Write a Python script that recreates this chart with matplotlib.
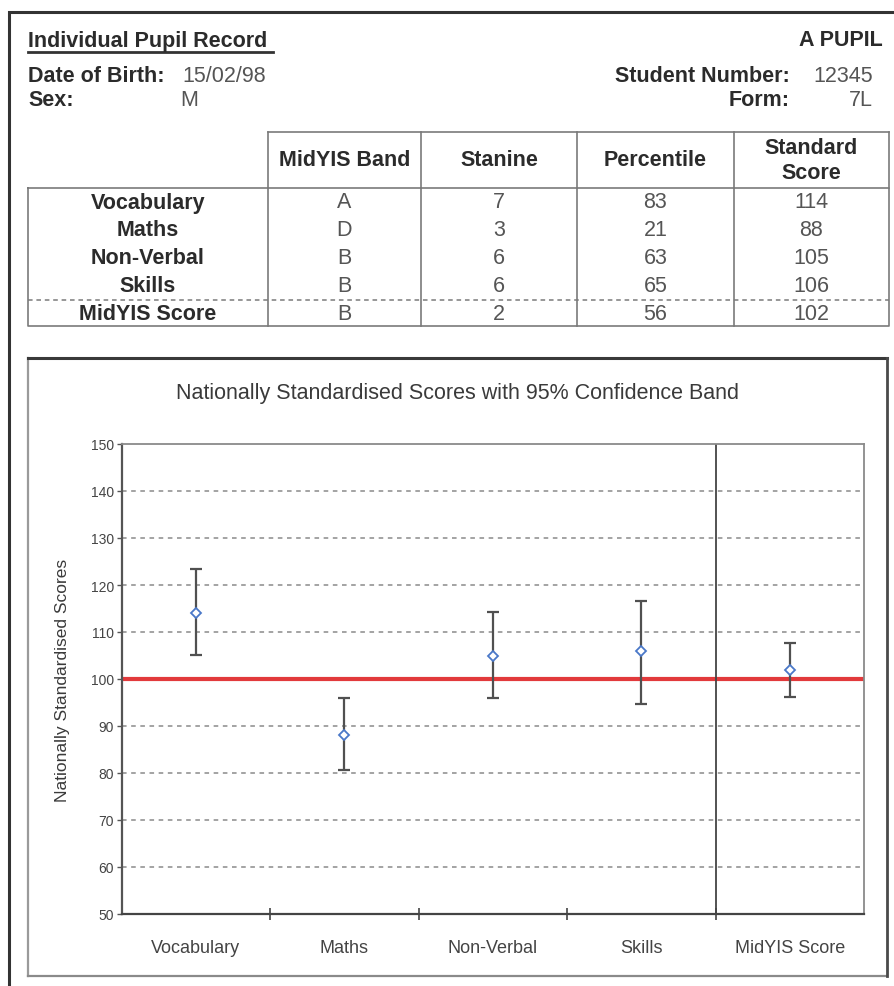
import numpy as np
import matplotlib
matplotlib.use("Agg")
import matplotlib.pyplot as plt

plt.rcParams['font.family'] = ['Liberation Sans', 'DejaVu Sans']

# ---------------- data ----------------
subjects = ["Vocabulary", "Maths", "Non-Verbal", "Skills", "MidYIS Score"]
bands = ["A", "D", "B", "B", "B"]
stanines = [7, 3, 6, 6, 2]
percentiles = [83, 21, 63, 65, 56]
standard_scores = [114, 88, 105, 106, 102]
ci_lower = [105.2, 80.6, 95.9, 94.6, 96.2]
ci_upper = [123.3, 96.0, 114.2, 116.5, 107.6]
table_headers = ["MidYIS Band", "Stanine", "Percentile", "Standard\nScore"]
y_ticks = [50, 60, 70, 80, 90, 100, 110, 120, 130, 140, 150]
reference_score = 100

pupil_name = "A PUPIL"
dob = "15/02/98"
sex = "M"
student_number = "12345"
form = "7L"

W, H = 894, 987
fig = plt.figure(figsize=(W / 100, H / 100), dpi=100)
fig.patch.set_facecolor("white")

bg = fig.add_axes([0, 0, 1, 1])
bg.set_xlim(0, W)
bg.set_ylim(H, 0)
bg.axis("off")

DARK = "#2b2b2b"
VAL = "#555555"
FS = 15.5

# outer frame (left + top)
bg.plot([9, 9, W], [H, 13, 13], color="#333333", lw=2.2, solid_joinstyle="miter")

# header block
bg.text(28, 41, "Individual Pupil Record", fontsize=FS, weight="bold", color=DARK,
        ha="left", va="center")
bg.plot([28, 273], [53, 53], color="#333333", lw=2)
bg.text(883, 41, pupil_name, fontsize=FS, weight="bold", color=DARK, ha="right", va="center")
bg.text(28, 76, "Date of Birth:", fontsize=FS, weight="bold", color=DARK, ha="left", va="center")
bg.text(182, 76, dob, fontsize=FS, color=VAL, ha="left", va="center")
bg.text(28, 101, "Sex:", fontsize=FS, weight="bold", color=DARK, ha="left", va="center")
bg.text(180, 101, sex, fontsize=FS, color=VAL, ha="left", va="center")
bg.text(790, 76, "Student Number:", fontsize=FS, weight="bold", color=DARK, ha="right", va="center")
bg.text(873, 76, student_number, fontsize=FS, color=VAL, ha="right", va="center")
bg.text(790, 101, "Form:", fontsize=FS, weight="bold", color=DARK, ha="right", va="center")
bg.text(873, 101, form, fontsize=FS, color=VAL, ha="right", va="center")

# ---------------- table ----------------
col_edges = [268, 421, 577, 734, 889]
tbl_top, hdr_bot, tbl_bot, body_left = 133, 189, 327, 28
row_y0, row_dy = 203, 28
LC = "#7a7a7a"
bg.plot([col_edges[0], col_edges[-1]], [tbl_top, tbl_top], color=LC, lw=1.2)
for xe in col_edges:
    bg.plot([xe, xe], [tbl_top, hdr_bot], color=LC, lw=1.2)
for xe in col_edges[1:-1]:
    bg.plot([xe, xe], [hdr_bot, tbl_bot], color=LC, lw=1.2)
bg.plot([col_edges[0], col_edges[0]], [hdr_bot, tbl_bot], color=LC, lw=1.2)
bg.plot([body_left, col_edges[-1], col_edges[-1], body_left, body_left],
        [hdr_bot, hdr_bot, tbl_bot, tbl_bot, hdr_bot], color=LC, lw=1.2)
dash_y = row_y0 + row_dy * 3.5
bg.plot([body_left, col_edges[-1]], [dash_y, dash_y], color=LC, lw=1.1,
        linestyle=(0, (3, 2.5)))

centers = [(col_edges[i] + col_edges[i + 1]) / 2 for i in range(4)]
for cx, h in zip(centers, table_headers):
    bg.text(cx, 161, h, fontsize=FS, weight="bold", color=DARK, ha="center", va="center",
            linespacing=1.25)
label_cx = (body_left + col_edges[0]) / 2
for i, s in enumerate(subjects):
    y = row_y0 + row_dy * i
    bg.text(label_cx, y, s, fontsize=FS, weight="bold", color=DARK, ha="center", va="center")
    vals = [bands[i], str(stanines[i]), str(percentiles[i]), str(standard_scores[i])]
    for cx, v in zip(centers, vals):
        bg.text(cx, y, v, fontsize=FS, color=VAL, ha="center", va="center")

# ---------------- chart box ----------------
bx0, bx1, by0, by1 = 28, 887, 359, 977
bg.plot([bx0, bx0], [by0, by1], color="#9a9a9a", lw=1.6)
bg.plot([bx0, bx1], [by1, by1], color="#8a8a8a", lw=1.6)
bg.plot([bx0, bx1], [by0, by0], color="#3a3a3a", lw=2.2)
bg.plot([bx1, bx1], [by0, by1], color="#4a4a4a", lw=2.0)

bg.text(458, 393, "Nationally Standardised Scores with 95% Confidence Band",
        fontsize=FS, color="#3a3a3a", ha="center", va="center")
bg.text(63, 680, "Nationally Standardised Scores", fontsize=12.5, color="#3a3a3a",
        ha="center", va="center", rotation=90)

# ---------------- plot ----------------
pl, pr, pt, pb = 121.5, 864, 445, 915
ax = fig.add_axes([pl / W, 1 - pb / H, (pr - pl) / W, (pb - pt) / H])
n = len(subjects)
xpos = np.arange(n) + 0.5
ax.set_xlim(0, n)
ax.set_ylim(y_ticks[0], y_ticks[-1])
ax.set_facecolor("none")

for yv in y_ticks[1:-1]:
    ax.axhline(yv, color="#8a8a8a", lw=1.1, linestyle=(0, (3, 3)), zorder=1)
ax.axhline(reference_score, color="#e23a3c", lw=3.0, zorder=2)
ax.axvline(n - 1, color="#444444", lw=1.3, zorder=2)

lo = np.array(standard_scores) - np.array(ci_lower)
hi = np.array(ci_upper) - np.array(standard_scores)
ax.errorbar(xpos, standard_scores, yerr=[lo, hi], fmt="none", ecolor="#505050",
            elinewidth=1.6, capsize=4.4, capthick=1.6, zorder=3)
ax.plot(xpos, standard_scores, linestyle="none", marker="D", markersize=4.6,
        markerfacecolor="white", markeredgecolor="#4a78c8", markeredgewidth=1.3, zorder=4)

ax.set_yticks(y_ticks)
ax.set_yticklabels([str(v) for v in y_ticks], fontsize=10, color="#444444")
ax.tick_params(axis="y", direction="out", length=3.5, width=1, color="#555555", pad=2)

ax.set_xticks(np.arange(1, n))
ax.set_xticklabels([])
ax.tick_params(axis="x", which="major", direction="inout", length=8, width=1.2, color="#444444")
ax.set_xticks(xpos, minor=True)
ax.set_xticklabels(subjects, minor=True, fontsize=13, color="#444444")
ax.tick_params(axis="x", which="minor", length=0, pad=18)

ax.spines["left"].set_color("#555555")
ax.spines["left"].set_linewidth(1.6)
ax.spines["bottom"].set_color("#444444")
ax.spines["bottom"].set_linewidth(1.6)
ax.spines["top"].set_color("#8a8a8a")
ax.spines["top"].set_linewidth(1.3)
ax.spines["right"].set_color("#8a8a8a")
ax.spines["right"].set_linewidth(1.3)

fig.savefig("out.png", dpi=100)
